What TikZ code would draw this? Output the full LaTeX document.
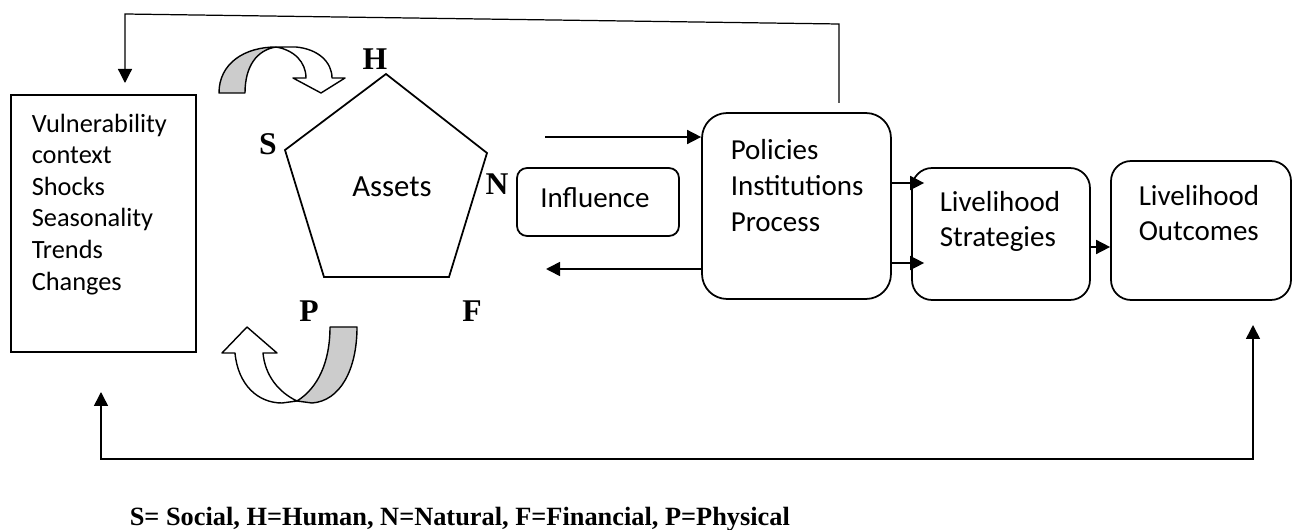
\documentclass[tikz,border=0pt]{standalone}
\usepackage{fontspec}
\setmainfont{Carlito}
\newfontfamily\tnr{Liberation Serif}
\usetikzlibrary{arrows.meta}

\begin{document}
\begin{tikzpicture}[
  x=0.02cm,y=-0.02cm,
  >={Triangle[length=0.28cm,width=0.28cm]},
  line width=0.9pt,
  box/.style={draw,line width=1pt,inner sep=0pt},
  rbox/.style={box,rounded corners=#1},
  txt/.style={inner sep=0pt,align=left,anchor=north west},
  letter/.style={font=\tnr\bfseries\fontsize{18}{21}\selectfont},
  band/.style={draw,line width=0.8pt,line join=round},
]
  \useasboundingbox (0,0) rectangle (1292,530);

  % boxes
  \node[box,minimum width=3.7cm,minimum height=5.14cm] (vul) at (103.5,223.5) {};
  \node[txt,font=\fontsize{15}{18}\selectfont] (vultxt) at (31,113)
    {Vulnerability\\context\\Shocks\\Seasonality\\Trends\\Changes};
  \node[rbox=0.2cm,minimum width=3.24cm,minimum height=1.36cm] (inf) at (598,202) {};
  \node[anchor=base,inner sep=0pt,font=\fontsize{16.5}{20}\selectfont] (inftxt) at (595,208) {Influence};
  \node[rbox=0.5cm,minimum width=3.78cm,minimum height=3.72cm] (pol) at (796.5,206) {};
  \node[txt,font=\fontsize{16.5}{20.4}\selectfont] (poltxt) at (730,139) {Policies\\Institutions\\Process};
  \node[rbox=0.4cm,minimum width=3.56cm,minimum height=2.64cm] (str) at (1001,234) {};
  \node[txt,font=\fontsize{16.5}{19.9}\selectfont] (strtxt) at (939,191) {Livelihood\\Strategies};
  \node[rbox=0.4cm,minimum width=3.6cm,minimum height=2.78cm] (out) at (1201,230.5) {};
  \node[txt,font=\fontsize{16.5}{19.9}\selectfont] (outtxt) at (1138,185) {Livelihood\\Outcomes};

  % assets pentagon
  \draw[line width=1pt] (386,74) -- (487,153) -- (449,277) -- (324,277) -- (285,150) -- cycle;
  \node[anchor=base,inner sep=0pt,font=\fontsize{17.5}{21}\selectfont] (assets) at (392,197) {Assets};
  \node[letter] (H) at (375,59) {H};
  \node[letter] (S) at (268,144) {S};
  \node[letter] (N) at (497,184) {N};
  \node[letter] (P) at (309,311) {P};
  \node[letter] (F) at (472,311) {F};

  % curved arrows
  \draw[band,fill=black!20] (219,93) -- (245,93) .. controls (245,66) and (257,50) .. (276,47)
    .. controls (245,47) and (219,63) .. (219,93) -- cycle;
  \draw[band,fill=white] (276,47) -- (296,47) .. controls (318,49) and (332,62) .. (332,78)
    -- (345,78) -- (321,93) -- (293,78) -- (306,78) .. controls (306,62) and (294,50) .. (276,47) -- cycle;
  \draw[band,fill=black!20] (297,401) -- (312,403) .. controls (340,401) and (357,370) .. (357,327)
    -- (330,327) .. controls (330,362) and (318,388) .. (297,401) -- cycle;
  \draw[band,fill=white] (297,401) .. controls (278,392) and (265,375) .. (263,353)
    -- (277,353) -- (247,327) -- (222,353) -- (235,353) .. controls (238,385) and (258,403) .. (282,403)
    -- (297,401) -- cycle;

  % connectors
  \coordinate (inA) at (545,137);
  \coordinate (outA) at (546,269);
  \draw[->] (inA) -- (inA -| pol.west);
  \draw[->] (outA -| pol.west) -- (outA);
  \foreach \y in {183,263}
    \draw[->] (pol.east |- 0,\y) -- ([xshift=0.26cm]str.west |- 0,\y);
  \draw[->] ([yshift=-0.26cm]str.east) -- ([yshift=-0.26cm]str.east -| out.west);

  % feedback loops
  \coordinate (fbA) at (839,103);
  \coordinate (fbB) at (839,24);
  \coordinate (fbC) at (125,14);
  \coordinate (fbD) at (125,83);
  \draw[->,line width=0.7pt] (fbA) -- (fbB) -- (fbC) -- (fbD);
  \coordinate (fbE) at (101,392);
  \coordinate (fbF) at (101,459);
  \coordinate (fbG) at (1253,459);
  \coordinate (fbH) at (1253,325);
  \draw[<->] (fbE) -- (fbF) -- (fbG) -- (fbH);

  \node[anchor=base west,inner sep=0pt,font=\tnr\bfseries\fontsize{15}{18}\selectfont] (key) at (129,525)
    {S= Social, H=Human, N=Natural, F=Financial, P=Physical};
\end{tikzpicture}
\end{document}
